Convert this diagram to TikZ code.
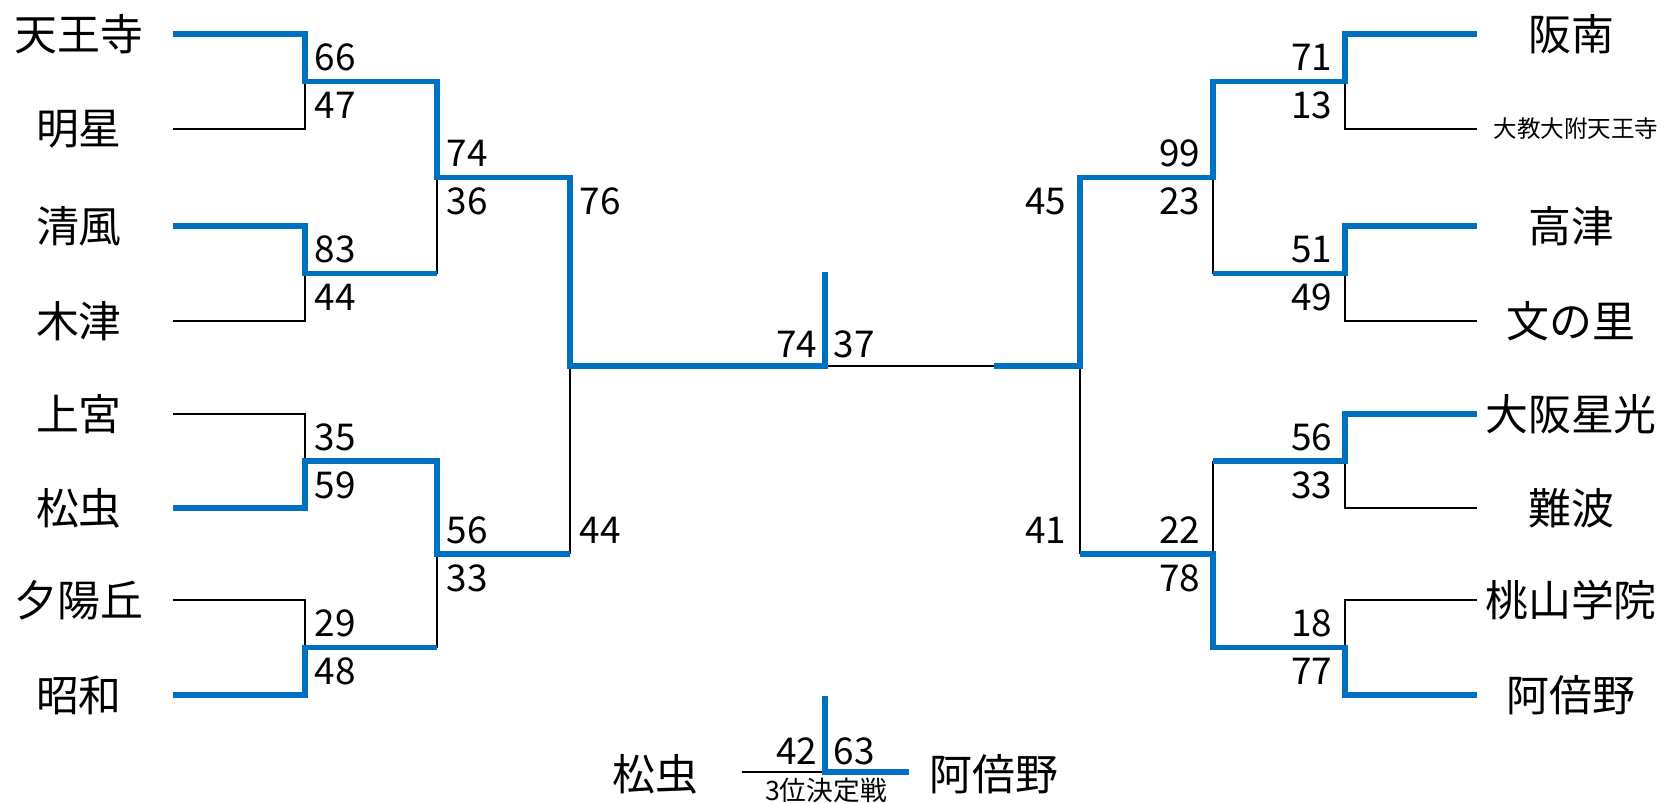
\documentclass[tikz,border=0pt]{standalone}
\usepackage{fontspec}
\setmainfont{Noto Sans CJK JP}
\definecolor{winblue}{HTML}{0070C0}
\tikzset{
  win/.style={draw=winblue, line width=1.5pt},
  lose/.style={draw=black, line width=0.85pt},
  team/.style={inner sep=0pt, font=\fontsize{12.2}{14}\selectfont},
  small/.style={inner sep=0pt, font=\fontsize{6.7}{8}\selectfont},
  pts/.style={inner sep=0pt, font=\fontsize{10.5}{12}\selectfont},
}

\begin{document}
\begin{tikzpicture}[x=0.01cm, y=-0.01cm]
    \useasboundingbox (0,0) rectangle (1662,803);

    % leaf ends
    \foreach \i/\y in {1/34,2/129,3/226,4/321,5/414,6/508,7/600,8/695} {
        \coordinate (l\i) at (173,\y);
        \coordinate (r\i) at (1477,\y);
    }

    % junctions
    \coordinate (a1) at (305,81.5);
    \coordinate (a2) at (305,273.5);
    \coordinate (a3) at (305,461);
    \coordinate (a4) at (305,647.5);
    \coordinate (b1) at (437,177.5);
    \coordinate (b2) at (437,554);
    \coordinate (c1) at (570,366);
    \coordinate (d1) at (1345,81.5);
    \coordinate (d2) at (1345,273.5);
    \coordinate (d3) at (1345,461);
    \coordinate (d4) at (1345,647.5);
    \coordinate (e1) at (1213,177.5);
    \coordinate (e2) at (1213,554);
    \coordinate (f1) at (1080,366);
    \coordinate (fin) at (825,366);
    \coordinate (fintop) at (825,272);
    \coordinate (finr) at (994,366);

    % teams
    \node[team] (tennoji) at (79,34) {天王寺};
    \node[team] (meisei) at (79,129) {明星};
    \node[team] (seifu) at (79,226) {清風};
    \node[team] (kizu) at (79,321) {木津};
    \node[team] (uemiya) at (79,414) {上宮};
    \node[team] (matsumushi) at (79,508) {松虫};
    \node[team] (yuhigaoka) at (79,600) {夕陽丘};
    \node[team] (showa) at (79,695) {昭和};
    \node[team] (hannan) at (1571,34) {阪南};
    \node[small] (kyodai) at (1576,129) {大教大附天王寺};
    \node[team] (kozu) at (1571,226) {高津};
    \node[team] (funosato) at (1571,321) {文の里};
    \node[team] (seiko) at (1571,414) {大阪星光};
    \node[team] (namba) at (1571,508) {難波};
    \node[team] (momoyama) at (1571,600) {桃山学院};
    \node[team] (abeno) at (1571,695) {阿倍野};

    % losers
    \draw[lose] (l2) -| (a1);
    \draw[lose] (l4) -| (a2);
    \draw[lose] (l5) -| (a3);
    \draw[lose] (l7) -| (a4);
    \draw[lose] (b1) -- (b1 |- a2);
    \draw[lose] (b2) -- (b2 |- a4);
    \draw[lose] (c1) -- (c1 |- b2);
    \draw[lose] (r2) -| (d1);
    \draw[lose] (r4) -| (d2);
    \draw[lose] (r6) -| (d3);
    \draw[lose] (r7) -| (d4);
    \draw[lose] (e1) -- (e1 |- d2);
    \draw[lose] (e2) -- (e2 |- d3);
    \draw[lose] (f1) -- (f1 |- e2);
    \draw[lose] (fin) -- (finr);

    % winners
    \draw[win] (l1) -| (a1) -| (b1) -| (c1) -- (fin) -- (fintop);
    \draw[win] (l3) -| (a2) -- (a2 -| b1);
    \draw[win] (l6) -| (a3) -| (b2) -- (b2 -| c1);
    \draw[win] (l8) -| (a4) -- (a4 -| b2);
    \draw[win] (r1) -| (d1) -| (e1) -| (f1) -- (finr);
    \draw[win] (r3) -| (d2) -- (d2 -| e1);
    \draw[win] (r5) -| (d3) -- (d3 -| e2);
    \draw[win] (r8) -| (d4) -| (e2) -- (e2 -| f1);

    % scores, left
    \node[pts, anchor=west] (s66) at (314,57.5) {66};
    \node[pts, anchor=west] (s47) at (314,105.5) {47};
    \node[pts, anchor=west] (s83) at (314,249.5) {83};
    \node[pts, anchor=west] (s44) at (314,297.5) {44};
    \node[pts, anchor=west] (s35) at (314,437) {35};
    \node[pts, anchor=west] (s59) at (314,485) {59};
    \node[pts, anchor=west] (s29) at (314,623.5) {29};
    \node[pts, anchor=west] (s48) at (314,671.5) {48};
    \node[pts, anchor=west] (s74) at (446,153.5) {74};
    \node[pts, anchor=west] (s36) at (446,201.5) {36};
    \node[pts, anchor=west] (s56) at (446,530) {56};
    \node[pts, anchor=west] (s33) at (446,578) {33};
    \node[pts, anchor=west] (s76) at (579,201.5) {76};
    \node[pts, anchor=west] (s44b) at (579,530) {44};

    % scores, right
    \node[pts, anchor=east] (s71) at (1333,57.5) {71};
    \node[pts, anchor=east] (s13) at (1333,105.5) {13};
    \node[pts, anchor=east] (s51) at (1333,249.5) {51};
    \node[pts, anchor=east] (s49) at (1333,297.5) {49};
    \node[pts, anchor=east] (s56b) at (1333,437) {56};
    \node[pts, anchor=east] (s33b) at (1333,485) {33};
    \node[pts, anchor=east] (s18) at (1333,623.5) {18};
    \node[pts, anchor=east] (s77) at (1333,671.5) {77};
    \node[pts, anchor=east] (s99) at (1201,153.5) {99};
    \node[pts, anchor=east] (s23) at (1201,201.5) {23};
    \node[pts, anchor=east] (s22) at (1201,530) {22};
    \node[pts, anchor=east] (s78) at (1201,578) {78};
    \node[pts, anchor=east] (s45) at (1067,201.5) {45};
    \node[pts, anchor=east] (s41) at (1067,530) {41};

    % final
    \node[pts, anchor=east] (s74f) at (818,344) {74};
    \node[pts, anchor=west] (s37f) at (833,344) {37};

    % third place
    \coordinate (q) at (825,772);
    \coordinate (qtop) at (825,696);
    \coordinate (qleft) at (742,772);
    \coordinate (qright) at (909,772);
    \draw[lose] (qleft) -- (q);
    \draw[win] (qtop) -- (q) -- (qright);
    \node[team] (third1) at (655,774) {松虫};
    \node[team] (third2) at (994,774) {阿倍野};
    \node[pts, anchor=east] (s42) at (818,751) {42};
    \node[pts, anchor=west] (s63) at (833,751) {63};
    \node[small, font=\fontsize{7.6}{9}\selectfont] (thirdlbl) at (826,790) {3位決定戦};
\end{tikzpicture}
\end{document}
